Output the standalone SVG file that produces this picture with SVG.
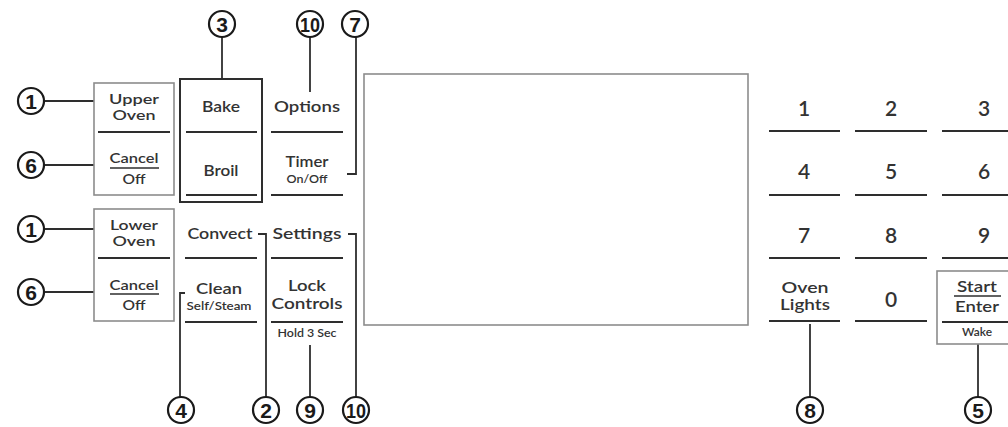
<svg xmlns="http://www.w3.org/2000/svg" width="1008" height="427" viewBox="0 0 1008 427">
<style>
.bg{fill:#ffffff}
.t{font-family:"Lato","Open Sans","Liberation Sans",sans-serif;font-weight:600;fill:#333;text-anchor:middle;font-size:15px}
.m{font-size:14px}
.s{font-size:11px}
.d{font-size:21px}
.bar{stroke:#2e2e2e;stroke-width:2;fill:none}
.ul{stroke:#2e2e2e;stroke-width:1.6;fill:none}
.gbox{fill:none;stroke:#8c8c8c;stroke-width:1.6}
.dbox{fill:none;stroke:#2e2e2e;stroke-width:2}
.c{fill:#fff;stroke:#1a1a1a;stroke-width:2.2}
.cn{font-family:"Liberation Sans",Arial,sans-serif;font-weight:bold;font-size:21px;fill:#1a1a1a;text-anchor:middle}
.w{stroke:#2e2e2e;stroke-width:1.8;fill:none}
</style>
<rect class="bg" x="0" y="0" width="1008" height="427"/>

<g id="connectors">
  <line class="w" x1="44" y1="101" x2="94" y2="101"/>
  <line class="w" x1="44" y1="165" x2="94" y2="165"/>
  <line class="w" x1="44" y1="229" x2="94" y2="229"/>
  <line class="w" x1="44" y1="292" x2="94" y2="292"/>
  <line class="w" x1="222" y1="37" x2="222" y2="79"/>
  <line class="w" x1="310" y1="37" x2="310" y2="92"/>
  <polyline class="w" points="356,37 356,174 347,174"/>
  <polyline class="w" points="185,293 180,293 180,397"/>
  <polyline class="w" points="258,234 266,234 266,397"/>
  <line class="w" x1="310" y1="345" x2="310" y2="397"/>
  <polyline class="w" points="348,234 356,234 356,397"/>
  <line class="w" x1="810" y1="324" x2="810" y2="397"/>
  <line class="w" x1="978" y1="344" x2="978" y2="397"/>
</g>

<g id="callout-1-upper"><circle class="c" cx="31" cy="101" r="13"/><text class="cn" x="31" y="108.5">1</text></g>
<g id="callout-6-upper"><circle class="c" cx="31" cy="165" r="13"/><text class="cn" x="31" y="172.5">6</text></g>
<g id="callout-1-lower"><circle class="c" cx="31" cy="229" r="13"/><text class="cn" x="31" y="236.5">1</text></g>
<g id="callout-6-lower"><circle class="c" cx="31" cy="292" r="13"/><text class="cn" x="31" y="299.5">6</text></g>
<g id="callout-3"><circle class="c" cx="222" cy="24" r="13"/><text class="cn" x="222" y="31.5">3</text></g>
<g id="callout-10-top"><circle class="c" cx="310" cy="24" r="13"/><text class="cn" x="310" y="31.5" textLength="20" lengthAdjust="spacingAndGlyphs">10</text></g>
<g id="callout-7"><circle class="c" cx="355" cy="24" r="13"/><text class="cn" x="355" y="31.5">7</text></g>
<g id="callout-4"><circle class="c" cx="181" cy="410" r="13"/><text class="cn" x="181" y="417.5">4</text></g>
<g id="callout-2"><circle class="c" cx="266" cy="410" r="13"/><text class="cn" x="266" y="417.5">2</text></g>
<g id="callout-9"><circle class="c" cx="310" cy="410" r="13"/><text class="cn" x="310" y="417.5">9</text></g>
<g id="callout-10-bottom"><circle class="c" cx="356" cy="410" r="13"/><text class="cn" x="356" y="417.5" textLength="20" lengthAdjust="spacingAndGlyphs">10</text></g>
<g id="callout-8"><circle class="c" cx="810" cy="410" r="13"/><text class="cn" x="810" y="417.5">8</text></g>
<g id="callout-5"><circle class="c" cx="978" cy="410" r="13"/><text class="cn" x="978" y="417.5">5</text></g>

<g id="upper-oven-box">
  <rect class="gbox" x="94" y="83" width="80" height="112"/>
  <text class="t m" x="134" y="104" textLength="50" lengthAdjust="spacingAndGlyphs">Upper</text>
  <text class="t m" x="134" y="120" textLength="43" lengthAdjust="spacingAndGlyphs">Oven</text>
  <line class="bar" x1="98" y1="132" x2="170" y2="132"/>
  <text class="t m" x="134" y="163" textLength="49" lengthAdjust="spacingAndGlyphs">Cancel</text>
  <line class="ul" x1="110" y1="168" x2="159" y2="168"/>
  <text class="t m" x="134" y="184" textLength="23" lengthAdjust="spacingAndGlyphs">Off</text>
</g>

<g id="lower-oven-box">
  <rect class="gbox" x="94" y="209" width="80" height="112"/>
  <text class="t m" x="134" y="230" textLength="48" lengthAdjust="spacingAndGlyphs">Lower</text>
  <text class="t m" x="134" y="246" textLength="43" lengthAdjust="spacingAndGlyphs">Oven</text>
  <line class="bar" x1="98" y1="258" x2="170" y2="258"/>
  <text class="t m" x="134" y="290" textLength="49" lengthAdjust="spacingAndGlyphs">Cancel</text>
  <line class="ul" x1="110" y1="294" x2="159" y2="294"/>
  <text class="t m" x="134" y="310" textLength="23" lengthAdjust="spacingAndGlyphs">Off</text>
</g>

<g id="bake-broil-box">
  <rect class="dbox" x="180" y="79" width="82" height="123"/>
  <text class="t" x="221" y="112" textLength="38" lengthAdjust="spacingAndGlyphs">Bake</text>
  <line class="bar" x1="186" y1="132" x2="257" y2="132"/>
  <text class="t" x="221" y="176" textLength="35" lengthAdjust="spacingAndGlyphs">Broil</text>
  <line class="bar" x1="186" y1="195" x2="257" y2="195"/>
</g>

<g id="options">
  <text class="t" x="307" y="112" textLength="66" lengthAdjust="spacingAndGlyphs">Options</text>
  <line class="bar" x1="271" y1="132" x2="343" y2="132"/>
</g>
<g id="timer">
  <text class="t" x="307" y="167" textLength="43" lengthAdjust="spacingAndGlyphs">Timer</text>
  <text class="t s" x="307" y="183" textLength="41" lengthAdjust="spacingAndGlyphs">On/Off</text>
  <line class="bar" x1="271" y1="195" x2="343" y2="195"/>
</g>
<g id="convect">
  <text class="t" x="220" y="239" textLength="65" lengthAdjust="spacingAndGlyphs">Convect</text>
  <line class="bar" x1="185" y1="258" x2="257" y2="258"/>
</g>
<g id="settings">
  <text class="t" x="307" y="239" textLength="69" lengthAdjust="spacingAndGlyphs">Settings</text>
  <line class="bar" x1="271" y1="258" x2="343" y2="258"/>
</g>
<g id="clean">
  <text class="t" x="219" y="294" textLength="46" lengthAdjust="spacingAndGlyphs">Clean</text>
  <text class="t s" x="219" y="310" textLength="65" lengthAdjust="spacingAndGlyphs">Self/Steam</text>
  <line class="bar" x1="185" y1="322" x2="257" y2="322"/>
</g>
<g id="lock-controls">
  <text class="t" x="307" y="291" textLength="38" lengthAdjust="spacingAndGlyphs">Lock</text>
  <text class="t" x="307" y="309" textLength="71" lengthAdjust="spacingAndGlyphs">Controls</text>
  <line class="bar" x1="271" y1="322" x2="343" y2="322"/>
  <text class="t s" x="307" y="337" textLength="59" lengthAdjust="spacingAndGlyphs">Hold 3 Sec</text>
</g>

<g id="display">
  <rect class="gbox" x="364" y="74" width="384" height="251"/>
</g>

<g id="key-1"><text class="t d" x="804" y="116">1</text><line class="bar" x1="769" y1="131" x2="840" y2="131"/></g>
<g id="key-2"><text class="t d" x="891" y="116">2</text><line class="bar" x1="855" y1="131" x2="927" y2="131"/></g>
<g id="key-3"><text class="t d" x="984" y="116">3</text><line class="bar" x1="942" y1="131" x2="1008" y2="131"/></g>
<g id="key-4"><text class="t d" x="804" y="179">4</text><line class="bar" x1="769" y1="195" x2="840" y2="195"/></g>
<g id="key-5"><text class="t d" x="891" y="179">5</text><line class="bar" x1="855" y1="195" x2="927" y2="195"/></g>
<g id="key-6"><text class="t d" x="984" y="179">6</text><line class="bar" x1="942" y1="195" x2="1008" y2="195"/></g>
<g id="key-7"><text class="t d" x="804" y="243">7</text><line class="bar" x1="769" y1="258" x2="840" y2="258"/></g>
<g id="key-8"><text class="t d" x="891" y="243">8</text><line class="bar" x1="855" y1="258" x2="927" y2="258"/></g>
<g id="key-9"><text class="t d" x="984" y="243">9</text><line class="bar" x1="942" y1="258" x2="1008" y2="258"/></g>
<g id="oven-lights">
  <text class="t" x="805" y="293" textLength="47" lengthAdjust="spacingAndGlyphs">Oven</text>
  <text class="t" x="805" y="310" textLength="50" lengthAdjust="spacingAndGlyphs">Lights</text>
  <line class="bar" x1="769" y1="321" x2="840" y2="321"/>
</g>
<g id="key-0"><text class="t d" x="891" y="307">0</text><line class="bar" x1="855" y1="321" x2="927" y2="321"/></g>
<g id="start-enter">
  <rect class="gbox" x="937" y="271" width="80" height="73"/>
  <text class="t" x="977" y="292" textLength="40" lengthAdjust="spacingAndGlyphs">Start</text>
  <line class="ul" x1="954" y1="296" x2="1001" y2="296"/>
  <text class="t" x="977" y="312" textLength="44" lengthAdjust="spacingAndGlyphs">Enter</text>
  <line class="bar" x1="942" y1="322" x2="1008" y2="322"/>
  <text class="t s" x="977" y="336" textLength="30" lengthAdjust="spacingAndGlyphs">Wake</text>
</g>
</svg>
